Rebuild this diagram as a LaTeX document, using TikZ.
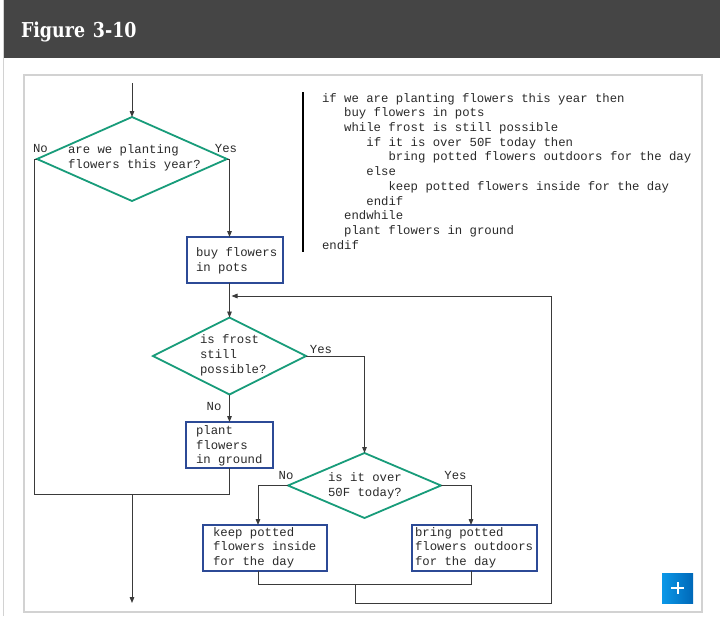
\documentclass[tikz,border=0pt]{standalone}
\usepackage{fontspec}
\usepackage{graphicx}
\setmonofont{Liberation Mono}
\newfontfamily\titlefont{DejaVu Serif}
\usetikzlibrary{shapes.geometric,arrows.meta}
\definecolor{hdr}{HTML}{454545}
\definecolor{framec}{HTML}{D2D2D2}
\definecolor{dgreen}{HTML}{189C7A}
\definecolor{dblue}{HTML}{2C4A96}
\definecolor{lnc}{HTML}{3A3A3A}
\definecolor{txtc}{HTML}{2A2A2A}
\definecolor{plusA}{HTML}{0B98E8}
\definecolor{plusB}{HTML}{0068B8}
\begin{document}
\begin{tikzpicture}[x=1pt,y=-1pt,
  every node/.style={inner sep=0pt,outer sep=0pt},
  mono/.style={font=\ttfamily\fontsize{12.3}{14.7}\selectfont, text=txtc, align=left},
  decision/.style={diamond, draw=dgreen, line width=1.8pt},
  procbox/.style={rectangle, draw=dblue, line width=1.8pt},
  conn/.style={draw=lnc, line width=0.95pt},
  arr/.style={conn, -{Triangle[length=6pt,width=4.6pt]}},
]
\useasboundingbox (0,0) rectangle (720,616);
\fill[white] (0,0) rectangle (720,616);
% header and frames
\fill[hdr] (4,0) rectangle (720,58);
\draw[framec, line width=1pt] (3.5,0) -- (3.5,616);
\draw[framec, line width=1.3pt] (24,75) rectangle (702,612);
\node[anchor=base west, text=white, font=\titlefont\bfseries\fontsize{20.5}{24}\selectfont] (title) at (21,37) {\scalebox{0.85}[1]{Figure\hspace{0.45em}3-10}};

% pseudo code
\draw[black, line width=2.6pt] (303,92) -- (303,252);
\foreach \ind/\txt [count=\i] in {
  0/{if we are planting flowers this year then},
  1/{buy flowers in pots},
  1/{while frost is still possible},
  2/{if it is over 50F today then},
  3/{bring potted flowers outdoors for the day},
  2/{else},
  3/{keep potted flowers inside for the day},
  2/{endif},
  1/{endwhile},
  1/{plant flowers in ground},
  0/{endif}}
  \node[mono, anchor=base west] (code\i) at ({322+22.2*\ind},{102+14.74*(\i-1)}) {\txt};

% shapes
\node[decision, minimum width=190pt, minimum height=84pt] (d1) at (132,159) {};
\node[mono, anchor=west] (d1t) at (68,157.5) {are we planting\\flowers this year?};
\node[procbox, minimum width=96pt, minimum height=46pt] (b1) at (235,260) {};
\node[mono, anchor=west] (b1t) at (196,260.5) {buy flowers\\in pots};
\node[decision, minimum width=153pt, minimum height=77pt] (d2) at (229.5,356) {};
\node[mono, anchor=west] (d2t) at (200,355.5) {is frost\\still\\possible?};
\node[procbox, minimum width=87pt, minimum height=46pt] (b2) at (229.5,445) {};
\node[mono, anchor=west] (b2t) at (196,446) {plant\\flowers\\in ground};
\node[decision, minimum width=153pt, minimum height=65pt] (d3) at (364.5,485.5) {};
\node[mono, anchor=west] (d3t) at (328,485.5) {is it over\\50F today?};
\node[procbox, minimum width=124pt, minimum height=46pt] (b3) at (265,548) {};
\node[mono, anchor=west] (b3t) at (213,547.7) {keep potted\\flowers inside\\for the day};
\node[procbox, minimum width=125pt, minimum height=46pt] (b4) at (474.5,548) {};
\node[mono, anchor=west] (b4t) at (415,547.7) {bring potted\\flowers outdoors\\for the day};

% labels
\node[mono] (l1no) at (40.5,149) {No};
\node[mono] (l1yes) at (226,149) {Yes};
\node[mono] (l2yes) at (321,350) {Yes};
\node[mono] (l2no) at (214,407) {No};
\node[mono] (l3no) at (286,476) {No};
\node[mono] (l3yes) at (455.5,476) {Yes};

% helper coordinates
\coordinate (top) at (132,83);
\coordinate (colA) at (229.5,0);
\coordinate (colB) at (258,0);
\coordinate (colC) at (471,0);
\coordinate (j1) at (258,584);
\coordinate (j2) at (471,584);
\coordinate (jm) at (355,584);
\coordinate (lp1) at (355,603);
\coordinate (lp2) at (551,296);
\coordinate (lpin) at (231.5,296);
\coordinate (m0) at (34,494);
\coordinate (m1) at (229.5,494);
\coordinate (ex) at (132,603);

% connectors
\draw[arr] (top) -- (d1.north);
\draw[arr] (d1.east) -| (b1.north -| colA);
\draw[arr] (b1.south -| colA) -- (d2.north);
\draw[arr] (d2.south) -- (b2.north);
\draw[arr] (d2.east) -| (d3.north);
\draw[arr] (d3.west) -| (b3.north -| colB);
\draw[arr] (d3.east) -| (b4.north -| colC);
\draw[conn] (b3.south -| colB) -- (j1) -- (j2) -- (b4.south -| colC);
\draw[arr] (jm) -- (lp1) -| (lp2) -- (lpin);
\draw[conn] (d1.west) -| (m0) -- (m1) -- (b2.south);
\draw[arr] (m0 -| ex) -- (ex);

% plus button
\shade[left color=plusA, right color=plusB] (662,573) rectangle (693,603);
\draw[white, line width=2pt] (671,588) -- (684,588) (677.5,582) -- (677.5,594);
\end{tikzpicture}
\end{document}
